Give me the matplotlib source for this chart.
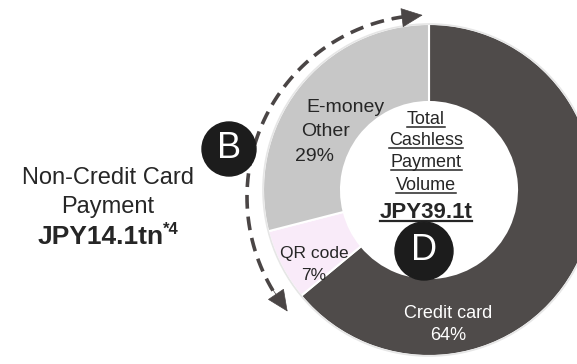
import numpy as np
import matplotlib.pyplot as plt
from matplotlib.patches import Circle

plt.rcParams["font.family"] = ["Liberation Sans", "DejaVu Sans"]

# ---- data ---------------------------------------------------------------
segments = ["Credit card", "QR code", "E-money\nOther"]
shares = [64, 7, 29]
seg_colors = ["#4f4b4a", "#f9ebf9", "#c7c7c7"]
center_lines = ["Total", "Cashless", "Payment", "Volume"]
total_value = "JPY39.1t"
side_lines = ["Non-Credit Card", "Payment"]
side_value = "JPY14.1tn"
side_note = "*4"

W, H = 577, 364
fig = plt.figure(figsize=(W / 100, H / 100), dpi=100)
ax = fig.add_axes([0, 0, 1, 1])

dark = "#262626"
arrow_col = "#4a4545"


def Y(y):
    # layout is written top-down, axes run bottom-up
    return H - y


# ---- donut --------------------------------------------------------------
cx, cy, r_out, r_in = 429, Y(190), 166, 88
ax.pie(shares, colors=seg_colors, startangle=90, counterclock=False,
       center=(cx, cy), radius=r_out,
       wedgeprops=dict(width=r_out - r_in, edgecolor="white", linewidth=1.5))
ax.add_patch(Circle((cx, cy), r_out, fill=False, ec="#e6e6e6", lw=1.2))
ax.set_xlim(0, W)
ax.set_ylim(0, H)
ax.set_aspect("equal")
ax.axis("off")

# segment labels
cc, qr, em = segments
ax.text(448, Y(318), cc, color="white", fontsize=13, ha="center", va="baseline")
ax.text(448, Y(340), f"{shares[0]}%", color="white", fontsize=13, ha="center", va="baseline")
ax.text(314, Y(258), qr, color=dark, fontsize=12.5, ha="center", va="baseline")
ax.text(314, Y(280), f"{shares[1]}%", color=dark, fontsize=12.5, ha="center", va="baseline")
em_top, em_bot = em.split("\n")
ax.text(345, Y(112), em_top, color=dark, fontsize=14, ha="center", va="baseline")
ax.text(326, Y(136), em_bot, color=dark, fontsize=14, ha="center", va="baseline")
ax.text(314, Y(161), f"{shares[2]}%", color=dark, fontsize=14, ha="center", va="baseline")

# centre title, underlined
under = []
for txt, yb in zip(center_lines, [124, 145, 167, 190]):
    under.append(ax.text(426, Y(yb), txt, color=dark, fontsize=13,
                         ha="center", va="baseline"))
under.append(ax.text(426, Y(218), total_value, color=dark, fontsize=16,
                     fontweight="bold", ha="center", va="baseline"))

# ---- dashed arc with arrowheads ------------------------------------------
ac_x, ac_y, ar = 429, Y(197), 182
a_top, a_bot = 92.0, 219.0
a0, a1 = a_top + 5.5, a_bot - 5.5
th = np.radians(np.linspace(a0, a1, 200))
ax.plot(ac_x + ar * np.cos(th), ac_y + ar * np.sin(th),
        ls=(0, (3.8, 2.2)), lw=2.6, color=arrow_col, solid_capstyle="butt")


def arc_pt(a):
    t = np.radians(a)
    return ac_x + ar * np.cos(t), ac_y + ar * np.sin(t)


head = dict(arrowstyle="-|>,head_length=1.1,head_width=0.5",
            mutation_scale=13, color=arrow_col, lw=0.5, shrinkA=0, shrinkB=0)
ax.annotate("", xy=arc_pt(a_top), xytext=arc_pt(a_top + 10), arrowprops=head)
ax.annotate("", xy=arc_pt(a_bot), xytext=arc_pt(a_bot - 10), arrowprops=head)

# ---- badges --------------------------------------------------------------
for (bx, by, br, letter) in [(229, 149, 27, "B"), (424, 251, 29, "D")]:
    ax.add_patch(Circle((bx, Y(by)), br, color="#1c1c1c", zorder=5))
    ax.text(bx, Y(by), letter, color="white", fontsize=26, ha="center",
            va="center", zorder=6)

# ---- left annotation -----------------------------------------------------
ax.text(108, Y(184), side_lines[0], color=dark, fontsize=17, ha="center", va="baseline")
ax.text(108, Y(213), side_lines[1], color=dark, fontsize=17, ha="center", va="baseline")
main = ax.text(0, Y(244), side_value, color=dark, fontsize=19,
               fontweight="bold", ha="left", va="baseline")
note = ax.text(0, Y(234), side_note, color=dark, fontsize=12,
               fontweight="bold", ha="left", va="baseline")

fig.canvas.draw()
rend = fig.canvas.get_renderer()
inv = ax.transData.inverted()

w_main = main.get_window_extent(rend).width
w_note = note.get_window_extent(rend).width
x_left = 108 - (w_main + w_note) / 2
main.set_x(x_left)
note.set_x(x_left + w_main)

for t in under:
    bb = t.get_window_extent(rend)
    (x0, _), (x1, _) = inv.transform([(bb.x0, 0), (bb.x1, 0)])
    yb = t.get_position()[1] - 2.5
    ax.plot([x0, x1], [yb, yb], color=dark, lw=1.1 if t is not under[-1] else 1.6)

fig.savefig("out.png", dpi=100)
